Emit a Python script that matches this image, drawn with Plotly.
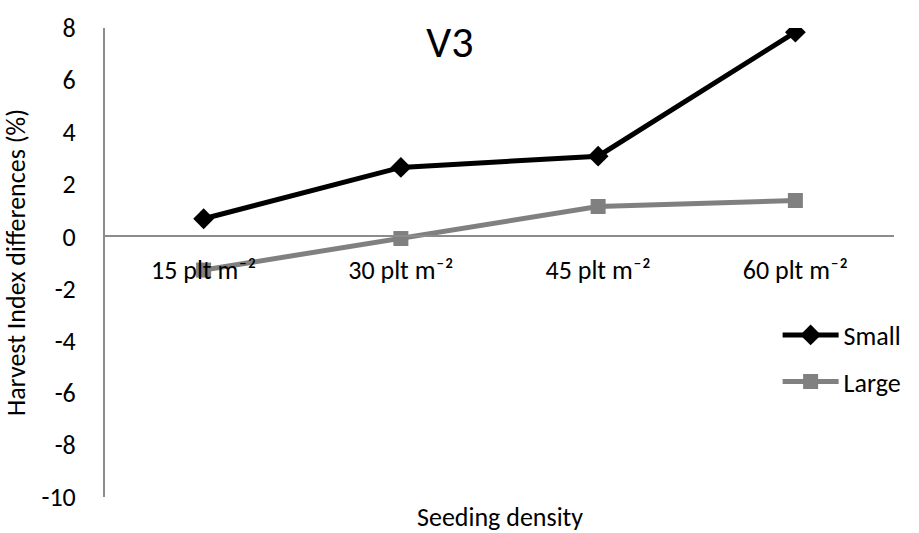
import plotly.graph_objects as go

categories = ["15 plt m⁻²", "30 plt m⁻²", "45 plt m⁻²", "60 plt m⁻²"]
small = [0.68, 2.65, 3.08, 7.84]
large = [-1.29, -0.08, 1.15, 1.38]
y_ticks = [-10, -8, -6, -4, -2, 0, 2, 4, 6, 8]
y_tick_text = ["-10", "-8", "-6", "-4", "-2", "0", "2", "4", "6", "8"]

FONT = "Carlito, Lato, Liberation Sans, sans-serif"
BASE = 26

fig = go.Figure()
fig.add_trace(go.Scatter(
    x=categories, y=large, name="Large", mode="lines+markers",
    line=dict(color="#808080", width=5),
    marker=dict(symbol="square", size=15, color="#808080"),
    legend="legend2",
))
fig.add_trace(go.Scatter(
    x=categories, y=small, name="Small", mode="lines+markers",
    line=dict(color="#000000", width=5),
    marker=dict(symbol="diamond", size=16, color="#000000"),
    legend="legend",
))

# plot area spans y 22..497 px, used to place the two legend rows
legend_common = dict(xref="paper", yref="paper", x=1.016, xanchor="right",
                     yanchor="middle", bgcolor="rgba(0,0,0,0)",
                     font=dict(size=BASE), itemwidth=56,
                     borderwidth=0)

fig.update_layout(
    width=919, height=533,
    margin=dict(l=105, r=17, t=22, b=36),
    paper_bgcolor="white", plot_bgcolor="white",
    font=dict(family=FONT, size=BASE, color="#000000"),
    title=dict(text="V3", x=450 / 919, xanchor="center", y=1 - 42 / 533, yanchor="middle",
               font=dict(family=FONT, size=44, color="#000000")),
    showlegend=True,
    legend=dict(legend_common, y=(497 - 333) / 475),
    legend2=dict(legend_common, y=(497 - 380) / 475),
    xaxis=dict(
        type="category", range=[-0.5, 3.5],
        anchor="free", position=10 / 18,
        showline=True, linecolor="#8c8c8c", linewidth=2,
        showgrid=False, zeroline=False, ticks="",
        tickfont=dict(size=BASE), ticklabelstandoff=10,
    ),
    yaxis=dict(
        range=[-10, 8], tickvals=y_ticks, ticktext=y_tick_text,
        showline=True, linecolor="#8c8c8c", linewidth=2,
        showgrid=False, zeroline=False, ticks="",
        tickfont=dict(size=BASE), ticklabelstandoff=22,
        title=dict(text="Harvest Index differences (%)", font=dict(size=BASE), standoff=8),
    ),
    annotations=[
        dict(text="Seeding density", xref="paper", yref="paper",
             x=0.5, y=0, yshift=-20, showarrow=False, yanchor="middle",
             font=dict(family=FONT, size=BASE, color="#000000")),
    ],
)

fig.write_html("out.html")
